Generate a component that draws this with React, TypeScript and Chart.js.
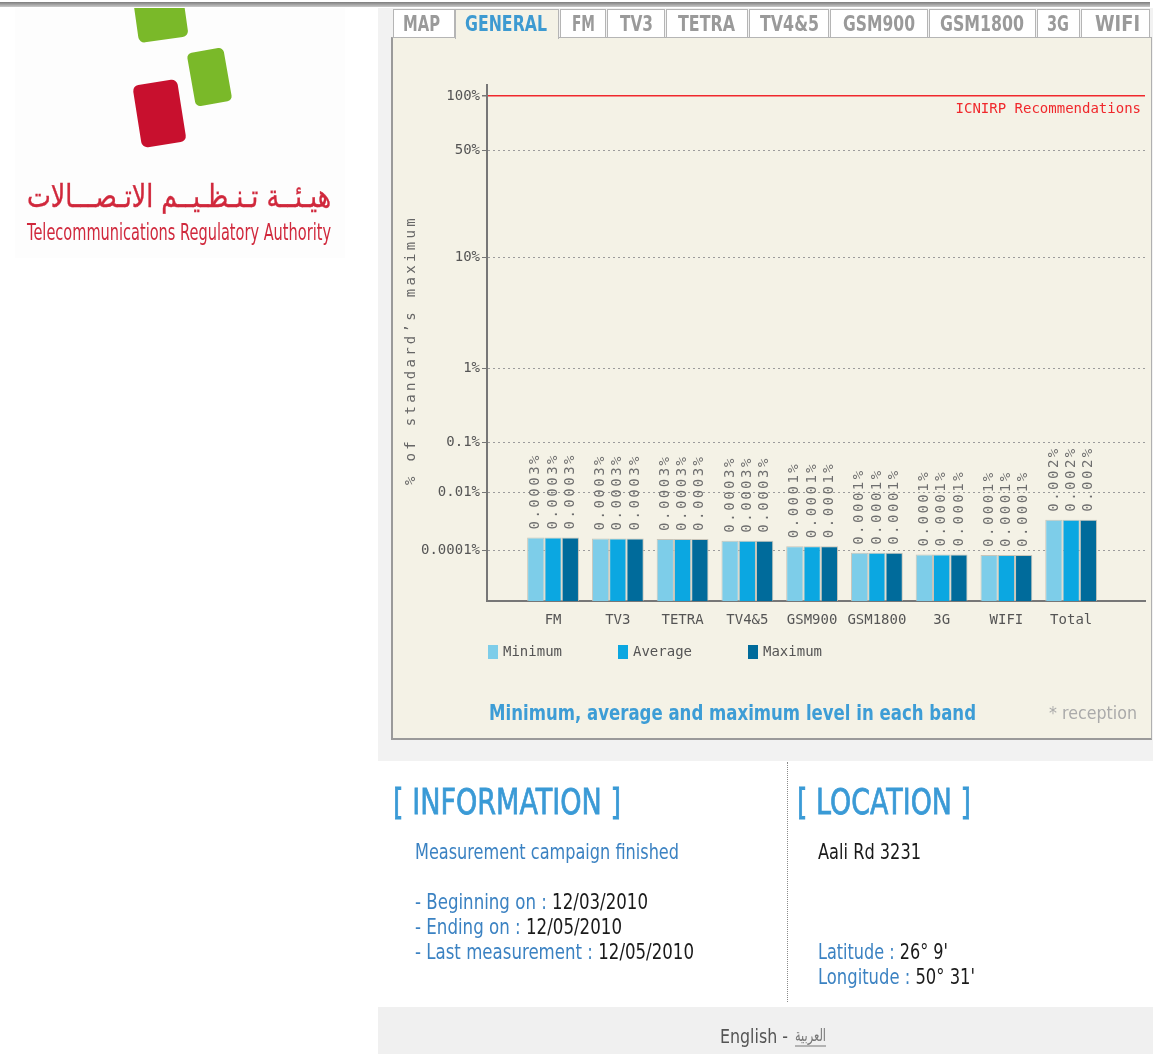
import React, { useEffect, useRef } from 'react';
import { Chart, registerables, Scale } from 'chart.js';

// ---------- data ----------
const CATEGORIES = ['FM', 'TV3', 'TETRA', 'TV4&5', 'GSM900', 'GSM1800', '3G', 'WIFI', 'Total'];
const SERIES_NAMES = ['Minimum', 'Average', 'Maximum'];
// values in % of the standard's maximum
const MINIMUM_VALUES = [0.00027, 0.00025, 0.00024, 0.00021, 0.000135, 0.000088, 0.000082, 0.00008, 0.0011];
const AVERAGE_VALUES = [0.00027, 0.00025, 0.00024, 0.00021, 0.000135, 0.000088, 0.000082, 0.00008, 0.0011];
const MAXIMUM_VALUES = [0.00027, 0.00025, 0.00024, 0.00021, 0.000135, 0.000088, 0.000082, 0.00008, 0.0011];
const MINIMUM_LABELS = ['0.0003%', '0.0003%', '0.0003%', '0.0003%', '0.0001%', '0.0001%', '0.0001%', '0.0001%', '0.002%'];
const AVERAGE_LABELS = ['0.0003%', '0.0003%', '0.0003%', '0.0003%', '0.0001%', '0.0001%', '0.0001%', '0.0001%', '0.002%'];
const MAXIMUM_LABELS = ['0.0003%', '0.0003%', '0.0003%', '0.0003%', '0.0001%', '0.0001%', '0.0001%', '0.0001%', '0.002%'];
const Y_TICK_VALUES = [0.0001, 0.01, 0.1, 1, 10, 50, 100];
const Y_TICK_LABELS = ['0.0001%', '0.01%', '0.1%', '1%', '10%', '50%', '100%'];
const LIMIT_VALUE = 100;
const LIMIT_LABEL = 'ICNIRP Recommendations';
const Y_TITLE = '% of standard\u2019s maximum';

const TABS = ['MAP', 'GENERAL', 'FM', 'TV3', 'TETRA', 'TV4&5', 'GSM900', 'GSM1800', '3G', 'WIFI'];
const ACTIVE_TAB = 'GENERAL';

// ---------- styling ----------
const SERIES_COLORS = ['#7dcde9', '#0ba7e1', '#006b9b'];
const MONO = '"DejaVu Sans Mono", "Liberation Mono", monospace';
const SANS = '"DejaVu Sans", sans-serif';

// broken logarithmic axis: value -> fraction of the axis height
const Y_BREAKS = [
  { value: 0.00001, pos: 0 },
  { value: 0.0001, pos: 51 / 516 },
  { value: 0.01, pos: 109 / 516 },
  { value: 0.1, pos: 159 / 516 },
  { value: 1, pos: 233 / 516 },
  { value: 10, pos: 344 / 516 },
  { value: 50, pos: 451 / 516 },
  { value: 100, pos: 505 / 516 },
  { value: 125, pos: 1 },
];

class BrokenLogScale extends Scale {
  static id = 'brokenLog';
  static defaults = {};
  determineDataLimits() {
    this.min = Y_BREAKS[0].value;
    this.max = Y_BREAKS[Y_BREAKS.length - 1].value;
  }
  buildTicks() {
    return Y_TICK_VALUES.map((value) => ({ value }));
  }
  getLabelForValue(value: number) {
    return String(value);
  }
  toDecimal(value: number) {
    const b = Y_BREAKS;
    if (!(value > b[0].value)) return 0;
    if (value >= b[b.length - 1].value) return 1;
    for (let i = 0; i < b.length - 1; i++) {
      if (value <= b[i + 1].value) {
        const t = (Math.log10(value) - Math.log10(b[i].value)) / (Math.log10(b[i + 1].value) - Math.log10(b[i].value));
        return b[i].pos + t * (b[i + 1].pos - b[i].pos);
      }
    }
    return 1;
  }
  getPixelForValue(value: number) {
    return (this as any).getPixelForDecimal(this.toDecimal(value));
  }
  getValueForPixel(pixel: number) {
    const d = (this as any).getDecimalForPixel(pixel);
    const b = Y_BREAKS;
    for (let i = 0; i < b.length - 1; i++) {
      if (d <= b[i + 1].pos) {
        const t = (d - b[i].pos) / (b[i + 1].pos - b[i].pos);
        return Math.pow(10, Math.log10(b[i].value) + t * (Math.log10(b[i + 1].value) - Math.log10(b[i].value)));
      }
    }
    return b[b.length - 1].value;
  }
}

Chart.register(...registerables, BrokenLogScale as any);

const overlayPlugin = {
  id: 'overlay',
  afterDatasetsDraw(chart: any) {
    const ctx = chart.ctx;
    ctx.save();
    ctx.font = `14px ${MONO}`;
    ctx.fillStyle = '#6e6e6e';
    ctx.letterSpacing = '2.5px';
    ctx.textAlign = 'left';
    ctx.textBaseline = 'middle';
    chart.data.datasets.forEach((ds: any, di: number) => {
      const meta = chart.getDatasetMeta(di);
      meta.data.forEach((el: any, i: number) => {
        ctx.save();
        ctx.translate(el.x, el.y - 8);
        ctx.rotate(-Math.PI / 2);
        ctx.fillText(ds.valueLabels[i], 0, 0);
        ctx.restore();
      });
    });
    ctx.restore();
  },
  afterDraw(chart: any) {
    const ctx = chart.ctx;
    const ca = chart.chartArea;
    const y = chart.scales.y;
    // limit label
    ctx.save();
    ctx.font = `14px ${MONO}`;
    ctx.fillStyle = '#f0282c';
    ctx.textAlign = 'right';
    ctx.textBaseline = 'middle';
    ctx.fillText(LIMIT_LABEL, ca.right - 4, y.getPixelForValue(LIMIT_VALUE) + 13);
    ctx.restore();
    // y title
    ctx.save();
    ctx.font = `14px ${MONO}`;
    ctx.fillStyle = '#666';
    ctx.letterSpacing = '3.3px';
    ctx.textAlign = 'center';
    ctx.textBaseline = 'middle';
    ctx.translate(16, (ca.top + ca.bottom) / 2 + 7);
    ctx.rotate(-Math.PI / 2);
    ctx.fillText(Y_TITLE, 0, 0);
    ctx.restore();
    // legend
    ctx.save();
    ctx.font = `14px ${MONO}`;
    ctx.textAlign = 'left';
    ctx.textBaseline = 'middle';
    chart.data.datasets.forEach((ds: any, i: number) => {
      const bx = ca.left + 1 + i * 130;
      const by = ca.bottom + 44;
      ctx.fillStyle = ds.backgroundColor;
      ctx.fillRect(bx, by, 10, 14);
      ctx.fillStyle = '#555';
      ctx.fillText(ds.label, bx + 15, by + 7);
    });
    ctx.restore();
  },
};

function ChartCanvas() {
  const ref = useRef<HTMLCanvasElement | null>(null);
  useEffect(() => {
    if (!ref.current) return;
    const seriesValues = [MINIMUM_VALUES, AVERAGE_VALUES, MAXIMUM_VALUES];
    const seriesLabels = [MINIMUM_LABELS, AVERAGE_LABELS, MAXIMUM_LABELS];
    const chart = new Chart(ref.current, {
      type: 'bar',
      data: {
        datasets: SERIES_NAMES.map((name, si) => ({
          label: name,
          data: seriesValues[si].map((v, i) => ({ x: i, y: v })),
          valueLabels: seriesLabels[si],
          backgroundColor: SERIES_COLORS[si],
          borderColor: 'rgba(196,192,180,0.9)',
          borderWidth: { top: 1, left: 1, right: 1, bottom: 0 },
          categoryPercentage: 0.8,
          barPercentage: 1,
        })) as any,
      },
      options: {
        animation: false,
        responsive: false,
        devicePixelRatio: 1,
        layout: { padding: { top: 25, right: 5, left: 0, bottom: 0 } },
        plugins: { legend: { display: false }, tooltip: { enabled: false } },
        scales: {
          x: {
            type: 'linear',
            offset: false,
            min: -1.02,
            max: 9.14,
            afterBuildTicks: (s: any) => {
              s.ticks = CATEGORIES.map((_, i) => ({ value: i }));
            },
            afterFit: (s: any) => {
              s.height = 79;
            },
            grid: { display: false, drawTicks: false, offset: false },
            border: { display: true, color: '#777', width: 2 },
            ticks: {
              autoSkip: false,
              maxRotation: 0,
              padding: 11,
              color: '#555',
              font: { family: MONO, size: 14 },
              callback: (v: any) => CATEGORIES[v] ?? '',
            },
          },
          y: {
            type: 'brokenLog',
            position: 'left',
            afterFit: (s: any) => {
              s.width = 92;
            },
            grid: {
              color: (c: any) => (c.tick && c.tick.value === LIMIT_VALUE ? '#f0282c' : '#9c9c9c'),
              lineWidth: (c: any) => (c.tick && c.tick.value === LIMIT_VALUE ? 1.5 : 1),
              tickColor: '#777',
              tickLength: 5,
              tickBorderDash: [],
            },
            border: {
              display: true,
              color: '#777',
              width: 2,
              dash: (c: any) => (c.tick && c.tick.value === LIMIT_VALUE ? [] : [2, 3]),
            },
            ticks: {
              autoSkip: false,
              padding: 2,
              color: '#555',
              font: { family: MONO, size: 14 },
              callback: (v: any) => Y_TICK_LABELS[Y_TICK_VALUES.indexOf(v)] ?? '',
            },
          } as any,
        },
      } as any,
      plugins: [overlayPlugin],
    });
    return () => chart.destroy();
  }, []);
  return <canvas ref={ref} width={755} height={620} style={{ display: 'block' }} />;
}

const TAB_BOXES = [
  [393, 455, 403, 37], [455, 559, 465, 82], [560, 606, 572, 23], [607, 665, 620, 33], [666, 748, 678, 57],
  [749, 829, 760, 59], [830, 928, 843, 72], [929, 1036, 940, 84], [1037, 1080, 1047, 22], [1081, 1150, 1095, 45],
];

function T(props: any) {
  const { x, y, w, size, weight, fill, family, children, sw } = props;
  return (
    <text
      x={x}
      y={y}
      textLength={w}
      lengthAdjust="spacingAndGlyphs"
      fontSize={size}
      fontWeight={weight || 'normal'}
      fontFamily={family || SANS}
      fill={fill}
      stroke={sw ? fill : undefined}
      strokeWidth={sw || undefined}
      style={{ whiteSpace: 'pre' }}
    >
      {children}
    </text>
  );
}

const abs = (l: number, t: number, w: number, h: number, extra: any = {}) => ({
  position: 'absolute' as const, left: l, top: t, width: w, height: h, boxSizing: 'border-box' as const, ...extra,
});

export default function App() {
  const BLUE = '#3b82c2';
  const HEAD = '#3a9ad6';
  const RED = '#d0283c';
  return (
    <div style={{ position: 'absolute', left: 0, top: 0, width: 1153, height: 1054, background: '#fff', overflow: 'hidden' }}>
      {/* top rule */}
      <div style={abs(0, 2, 1150, 5, { background: 'linear-gradient(#7d7d7d, #c9c9c9)' })} />
      {/* logo */}
      <div style={abs(15, 8, 330, 250, { background: '#fdfdfd', overflow: 'hidden' })}>
        <div style={abs(120, -24, 50, 56, { background: '#7ab929', borderRadius: 6, transform: 'rotate(-8deg)' })} />
        <div style={abs(176, 42, 37, 54, { background: '#7ab929', borderRadius: 5, transform: 'rotate(-10deg)' })} />
        <div style={abs(122, 74, 45, 63, { background: '#c8102e', borderRadius: 6, transform: 'rotate(-9deg)' })} />
      </div>
      {/* grey column */}
      <div style={abs(378, 8, 775, 753, { background: '#f2f2f2' })} />
      {/* panel */}
      <div
        style={abs(391, 37, 761, 703, {
          background: '#f4f2e6',
          borderLeft: '2px solid #9a9a9a',
          borderBottom: '2px solid #9a9a9a',
          borderRight: '1px solid #b0b0b0',
          borderTop: '1px solid #b0b0b0',
        })}
      />
      {/* tabs */}
      {TAB_BOXES.map((b, i) => (
        <div
          key={i}
          style={abs(b[0], 9, b[1] - b[0], TABS[i] === ACTIVE_TAB ? 30 : 29, {
            background: TABS[i] === ACTIVE_TAB ? '#f4f2e6' : '#fff',
            borderTop: '1px solid #b5b5b5',
            borderLeft: '1px solid #b5b5b5',
            borderRight: '1px solid #b5b5b5',
            borderBottom: TABS[i] === ACTIVE_TAB ? 'none' : '1px solid #b5b5b5',
          })}
        />
      ))}
      {/* chart */}
      <div style={abs(395, 60, 755, 620)}>
        <ChartCanvas />
      </div>
      {/* divider */}
      <div style={abs(787, 762, 1, 240, { borderLeft: '1px dotted #8a8a8a' })} />
      {/* footer */}
      <div style={abs(378, 1007, 775, 47, { background: '#f0f0f0' })} />
      {/* text layer */}
      <svg width={1153} height={1054} style={{ position: 'absolute', left: 0, top: 0, pointerEvents: 'none' }}>
        <T x={27} y={207} w={304} size={32} fill={RED} sw={0.4}>هيـئــة تـنـظـيــم الاتـصـــالات</T>
        <T x={27} y={240} w={304} size={23} fill={RED}>Telecommunications Regulatory Authority</T>
        {TAB_BOXES.map((b, i) => (
          <T key={i} x={b[2]} y={31} w={b[3]} size={21} weight="bold" fill={TABS[i] === ACTIVE_TAB ? '#3d9ad1' : '#9a9a9a'}>
            {TABS[i]}
          </T>
        ))}
        <T x={489} y={720} w={487} size={22} weight="bold" fill="#3d9dd6">Minimum, average and maximum level in each band</T>
        <T x={1049} y={719} w={88} size={18} fill="#aaaaaa">* reception</T>
        <T x={393} y={814} w={228} size={36} fill={HEAD} sw={0.8}>[ INFORMATION ]</T>
        <T x={797} y={814} w={174} size={36} fill={HEAD} sw={0.8}>[ LOCATION ]</T>
        <T x={415} y={859} w={264} size={21} fill={BLUE}>Measurement campaign finished</T>
        <T x={415} y={909} w={233} size={21} fill={BLUE}>
          <tspan>- Beginning on : </tspan><tspan fill="#1a1a1a">12/03/2010</tspan>
        </T>
        <T x={415} y={934} w={207} size={21} fill={BLUE}>
          <tspan>- Ending on : </tspan><tspan fill="#1a1a1a">12/05/2010</tspan>
        </T>
        <T x={415} y={959} w={279} size={21} fill={BLUE}>
          <tspan>- Last measurement : </tspan><tspan fill="#1a1a1a">12/05/2010</tspan>
        </T>
        <T x={818} y={859} w={103} size={21} fill="#1a1a1a">Aali Rd 3231</T>
        <T x={818} y={959} w={130} size={21} fill={BLUE}>
          <tspan>Latitude : </tspan><tspan fill="#1a1a1a">26° 9'</tspan>
        </T>
        <T x={818} y={984} w={157} size={21} fill={BLUE}>
          <tspan>Longitude : </tspan><tspan fill="#1a1a1a">50° 31'</tspan>
        </T>
        <T x={720} y={1043} w={68} size={20} fill="#555">English -</T>
        <T x={795} y={1041} w={31} size={17} fill="#777">العربية</T>
        <line x1={795} y1={1046} x2={826} y2={1046} stroke="#777" strokeWidth={1} />
      </svg>
    </div>
  );
}
